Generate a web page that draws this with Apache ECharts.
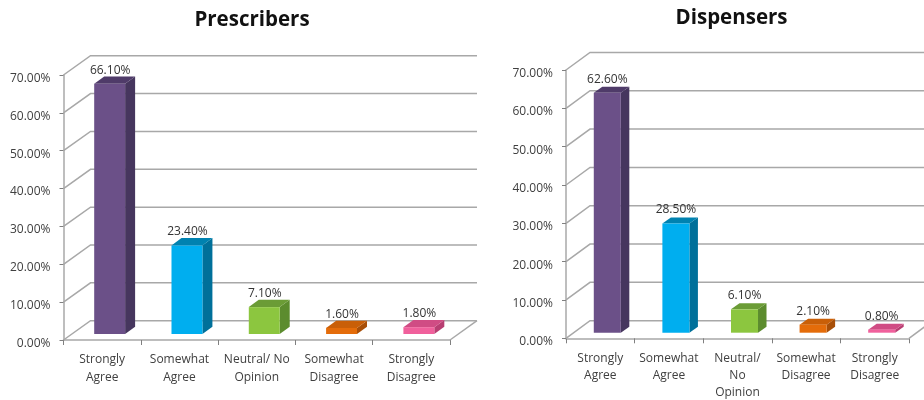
<!DOCTYPE html>
<html><head><meta charset="utf-8">
<style>html,body{margin:0;padding:0;background:#fff}#c{width:924px;height:400px}</style>
<script src="https://cdn.jsdelivr.net/npm/echarts@6/dist/echarts.min.js"></script>
</head><body><div id="c"></div>
<script>
var categoriesLeft = ['Strongly\nAgree','Somewhat\nAgree','Neutral/ No\nOpinion','Somewhat\nDisagree','Strongly\nDisagree'];
var categoriesRight = ['Strongly\nAgree','Somewhat\nAgree','Neutral/\nNo\nOpinion','Somewhat\nDisagree','Strongly\nDisagree'];
var prescribers = [66.1,23.4,7.1,1.6,1.8];
var dispensers = [62.6,28.5,6.1,2.1,0.8];
var yTicks = [0,10,20,30,40,50,60,70];
var front = ['#6b5088','#00aeef','#8cc63f','#e46c0a','#f0609c'];
var side  = ['#46365e','#00709a','#5c8c2e','#a84f08','#b83e72'];
var top_  = ['#4f3b69','#0082b0','#6b9c36','#c95f08','#d04c84'];
var gridColor = '#a8a8a8', textColor = '#404040', font = '"Open Sans"';

function frameSeries(idx, wall){
  return {type:'custom',xAxisIndex:idx,yAxisIndex:idx,silent:true,z:1,
    data:yTicks.map(function(v){return [0,v];}),
    encode:{x:0,y:1},
    renderItem:function(params,api){
      var cs=params.coordSys, y=api.coord([0,api.value(1)])[1];
      var x0=cs.x, x1=cs.x+cs.width;
      var kids=[{type:'polyline',shape:{points:[[x0,y],[x0+wall[0],y-wall[1]],[x1+wall[0],y-wall[1]]]},
        style:{fill:null,stroke:gridColor,lineWidth:1.5}}];
      if(api.value(1)===0){
        kids.push({type:'line',shape:{x1:x1,y1:y,x2:x1+wall[0],y2:y-wall[1]},style:{stroke:gridColor,lineWidth:1.5}});
      }
      return {type:'group',children:kids};
    }};
}
function barSeries(idx, values, cfg){
  return {type:'custom',xAxisIndex:idx,yAxisIndex:idx,silent:true,z:3,
    data:values.map(function(v,i){return [i,v];}),
    encode:{x:0,y:1},
    renderItem:function(params,api){
      var i=params.dataIndex, v=api.value(1);
      var top=api.coord([api.value(0),v]), base=api.coord([api.value(0),0]);
      var w=api.size([1,0])[0]*cfg.ratio;
      var l=base[0]+cfg.shift[0]-w/2, r=l+w, b=base[1]-cfg.shift[1], t=top[1]-cfg.shift[1];
      var dx=cfg.depth[0], dy=cfg.depth[1];
      return {type:'group',children:[
        {type:'polygon',shape:{points:[[r,t],[r+dx,t-dy],[r+dx,b-dy],[r,b]]},style:{fill:side[i]}},
        {type:'polygon',shape:{points:[[l,t],[l+dx,t-dy],[r+dx,t-dy],[r,t]]},style:{fill:top_[i]}},
        {type:'rect',shape:{x:l,y:t,width:w,height:b-t},style:{fill:front[i]}},
        {type:'text',style:{text:v.toFixed(2)+'%',x:(l+r)/2+cfg.labelDx,y:t-13.5,align:'center',verticalAlign:'middle',
          fill:'#333',font:'12px '+font}}
      ]};
    }};
}
function xAxis(idx,cats,margin,lh){
  return {type:'category',gridIndex:idx,data:cats,
    axisLine:{lineStyle:{color:gridColor,width:1.5}},
    axisTick:{show:true,alignWithLabel:false,length:5,lineStyle:{color:'#808080'}},
    axisLabel:{interval:0,margin:margin,lineHeight:lh,color:textColor,fontFamily:font,fontSize:12},
    splitLine:{show:false}};
}
function yAxis(idx,margin,lh){
  return {type:'value',gridIndex:idx,min:0,max:70,interval:10,
    axisLine:{show:true,lineStyle:{color:gridColor,width:1.5}},
    axisTick:{show:true,length:4,lineStyle:{color:'#808080'}},
    axisLabel:{margin:margin,verticalAlign:'top',lineHeight:lh,color:textColor,fontFamily:font,fontSize:12,formatter:function(v){return v.toFixed(2)+'%';}},
    splitLine:{show:false}};
}
var chart=echarts.init(document.getElementById('c'),null,{renderer:'canvas'});
chart.setOption({
  animation:false,backgroundColor:'#fff',
  title:[
    {text:'Prescribers',left:247,top:5,textAlign:'center',textStyle:{fontFamily:font,fontWeight:'bold',fontSize:20.5,color:'#111'}},
    {text:'Dispensers',left:726.5,top:3,textAlign:'center',textStyle:{fontFamily:font,fontWeight:'bold',fontSize:20.5,color:'#111'}}
  ],
  grid:[
    {left:63.5,top:75,width:386.5,height:265,outerBoundsMode:'none'},
    {left:566,top:70,width:343,height:268.3,outerBoundsMode:'none'}
  ],
  xAxis:[xAxis(0,categoriesLeft,11,18),xAxis(1,categoriesRight,12,17)],
  yAxis:[yAxis(0,13,7),yAxis(1,13,7)],
  series:[
    frameSeries(0,[27,19.3]),
    frameSeries(1,[24,17.6]),
    barSeries(0,prescribers,{ratio:0.40,shift:[7.5,6],depth:[10,7.3],labelDx:0.5}),
    barSeries(1,dispensers,{ratio:0.394,shift:[7,5.6],depth:[8.5,6],labelDx:0})
  ]
});
</script></body></html>
